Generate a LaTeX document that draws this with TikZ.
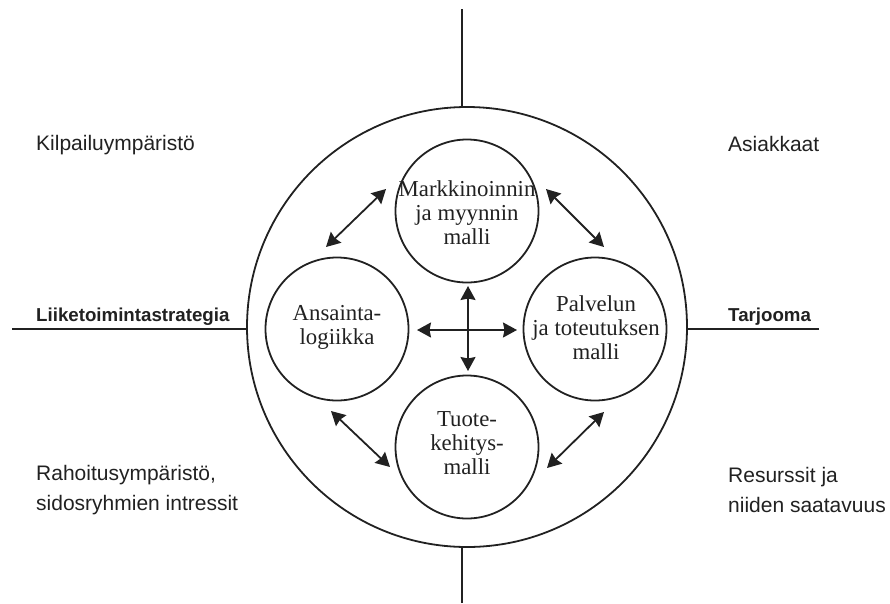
\documentclass[tikz,border=0pt]{standalone}
\usepackage{fontspec}
\setmainfont{Liberation Serif}
\newfontfamily\labelfont{Liberation Sans}
\usetikzlibrary{arrows.meta}
\definecolor{ink}{rgb}{0.13,0.13,0.13}
\begin{document}
\begin{tikzpicture}[x=1pt,y=-1pt,
  ring/.style={draw=ink, line width=1.8pt, circle, inner sep=0pt, minimum size=#1},
  rule/.style={draw=ink, line width=1.5pt},
  twoway/.style={draw=ink, line width=1.8pt, {Stealth[length=14pt,width=15pt,inset=1.5pt]}-{Stealth[length=14pt,width=15pt,inset=1.5pt]}},
  intext/.style={align=center, text=ink, font=\fontsize{22.8}{24}\selectfont, inner sep=0pt},
  outtext/.style={align=left, text=ink, font=\labelfont\fontsize{21}{30}\selectfont, inner sep=0pt},
  outbold/.style={text=ink, font=\labelfont\bfseries\fontsize{18.7}{20}\selectfont, inner sep=0pt}
]
\useasboundingbox (0,0) rectangle (890,603);

% outer circle and axis lines
\node[ring=440pt] (big) at (467,327) {};
\coordinate (topend) at (462,9);
\coordinate (botend) at (462,603);
\coordinate (lend) at (12,329);
\coordinate (rend) at (819,329);
\draw[rule] (topend) -- (topend |- big.north);
\draw[rule] (botend) -- (botend |- big.south);
\draw[rule] (lend) -- (lend -| big.west);
\draw[rule] (rend) -- (rend -| big.east);

% inner circles
\node[ring=143pt] (top) at (467,211) {};
\node[ring=143pt] (left) at (337,329) {};
\node[ring=143pt] (right) at (595,329) {};
\node[ring=143pt] (bottom) at (467,447) {};

\node[intext] (ttop) at (467,213) {Markkinoinnin\\ja myynnin\\malli};
\node[intext] (tleft) at (337,327) {Ansainta-\\logiikka};
\node[intext] (tright) at (596,328) {Palvelun\\ja toteutuksen\\malli};
\node[intext] (tbottom) at (467,443) {Tuote-\\kehitys-\\malli};

% diagonal arrows
\coordinate (tl1) at (386,189); \coordinate (tl2) at (326,247);
\coordinate (tr1) at (546,189); \coordinate (tr2) at (604,247);
\coordinate (bl1) at (331,411); \coordinate (bl2) at (390,467);
\coordinate (br1) at (604,412); \coordinate (br2) at (547,468);
\draw[twoway] (tl1) -- (tl2);
\draw[twoway] (tr1) -- (tr2);
\draw[twoway] (bl1) -- (bl2);
\draw[twoway] (br1) -- (br2);

% central cross
\coordinate (cw) at (417,330); \coordinate (ce) at (517,330);
\coordinate (cn) at (468,286); \coordinate (cs) at (468,371);
\draw[twoway] (cw) -- (ce);
\draw[twoway] (cn) -- (cs);

% outer labels
\node[outtext, anchor=base west] (kil) at (36,150) {Kilpailuympäristö};
\node[outtext, anchor=base west] (asi) at (728,151) {Asiakkaat};
\node[outbold, anchor=base west] (lii) at (36,321) {Liiketoimintastrategia};
\node[outbold, anchor=base west] (tar) at (728,321) {Tarjooma};
\node[outtext, anchor=west] (rah) at (36,490) {Rahoitusympäristö,\\sidosryhmien intressit};
\node[outtext, anchor=west] (res) at (728,490) {Resurssit ja\\niiden saatavuus};
\end{tikzpicture}
\end{document}
